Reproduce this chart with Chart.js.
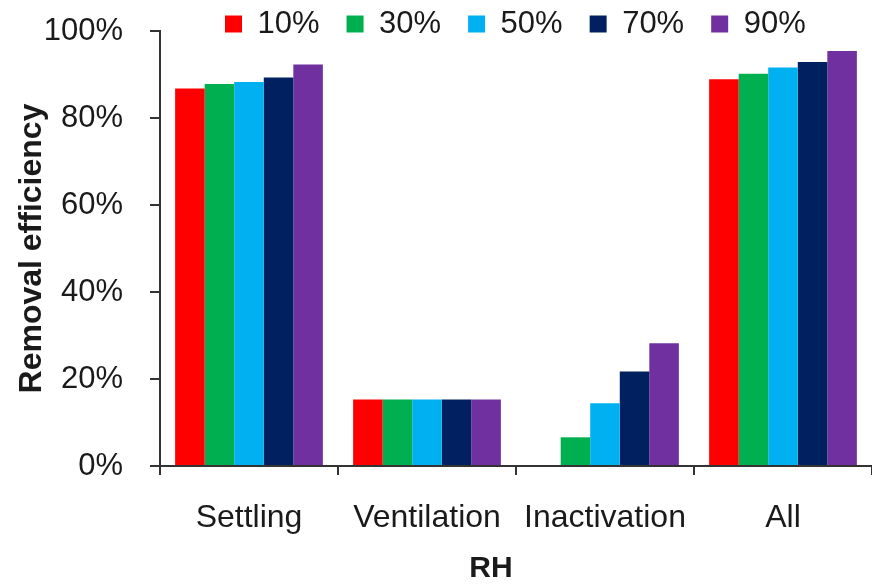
<!DOCTYPE html>
<html>
<head>
<meta charset="utf-8">
<script src="https://cdn.jsdelivr.net/npm/chart.js@4"></script>
<style>
  html, body { margin: 0; padding: 0; background: #ffffff; }
  #wrap { width: 872px; height: 585px; }
</style>
</head>
<body>
<div id="wrap"><canvas id="c" width="872" height="585"></canvas></div>
<script>
const categories = ['Settling', 'Ventilation', 'Inactivation', 'All'];
const seriesLabels = ['10%', '30%', '50%', '70%', '90%'];
const rh10 = [86.8, 15.3, 0, 88.9];
const rh30 = [87.8, 15.3, 6.6, 90.2];
const rh50 = [88.3, 15.3, 14.4, 91.6];
const rh70 = [89.3, 15.3, 21.7, 92.9];
const rh90 = [92.3, 15.3, 28.2, 95.4];
const yTicks = [0, 20, 40, 60, 80, 100];
const yTitle = 'Removal efficiency';
const xTitle = 'RH';

const colors = ['#FF0000', '#00B050', '#00B0F0', '#002060', '#7030A0'];
const seriesValues = [rh10, rh30, rh50, rh70, rh90];
const FONT = "'Liberation Sans', Arial, sans-serif";
const TEXT = '#1a1a1a';
const AXIS = '#333333';

const legendPlacer = {
  id: 'legendPlacer',
  afterLayout(chart) {
    const lg = chart.legend;
    if (!lg) return;
    lg.left = 198;
    lg.right = 872;
    lg.top = -18.5;
    lg.bottom = 40;
  }
};

new Chart(document.getElementById('c'), {
  type: 'bar',
  data: {
    labels: categories,
    datasets: seriesValues.map((vals, i) => ({
      label: seriesLabels[i],
      data: vals,
      backgroundColor: colors[i],
      borderWidth: 0,
      categoryPercentage: 0.83,
      barPercentage: 1.0
    }))
  },
  options: {
    responsive: false,
    animation: false,
    devicePixelRatio: 1,
    layout: { padding: { top: 30, right: 0, bottom: 0, left: 0 } },
    plugins: {
      legend: {
        position: 'top',
        align: 'start',
        maxHeight: 1,
        labels: {
          boxWidth: 17,
          boxHeight: 17,
          padding: 27,
          color: TEXT,
          font: { family: FONT, size: 31 }
        }
      },
      tooltip: { enabled: false }
    },
    scales: {
      x: {
        grid: {
          offset: true,
          drawOnChartArea: false,
          drawTicks: true,
          tickLength: 9,
          color: AXIS,
          lineWidth: 2
        },
        border: { display: true, color: AXIS, width: 2 },
        ticks: {
          color: TEXT,
          padding: 24,
          maxRotation: 0,
          font: { family: FONT, size: 32 }
        },
        title: {
          display: true,
          text: xTitle + '\u00A0\u00A0\u00A0\u00A0\u00A0\u00A0',
          color: TEXT,
          font: { family: FONT, size: 30, weight: 'bold' },
          padding: { top: 0, bottom: -2 }
        },
        afterFit(scale) { scale.height = 119; scale.paddingLeft = 0; scale.paddingRight = 0; }
      },
      y: {
        min: 0,
        max: 100,
        afterBuildTicks(scale) { scale.ticks = yTicks.map(v => ({ value: v })); },
        grid: {
          drawOnChartArea: false,
          drawTicks: true,
          tickLength: 10,
          color: AXIS,
          lineWidth: 2
        },
        border: { display: true, color: AXIS, width: 2 },
        ticks: {
          color: TEXT,
          padding: 27,
          font: { family: FONT, size: 31 },
          callback: (v) => v + '%'
        },
        title: {
          display: true,
          text: yTitle,
          color: TEXT,
          font: { family: FONT, size: 32, weight: 'bold' },
          padding: { top: 13, bottom: 0 }
        },
        afterFit(scale) { scale.width = 160; scale.paddingTop = 0; scale.paddingBottom = 0; }
      }
    }
  },
  plugins: [legendPlacer]
});
</script>
</body>
</html>
